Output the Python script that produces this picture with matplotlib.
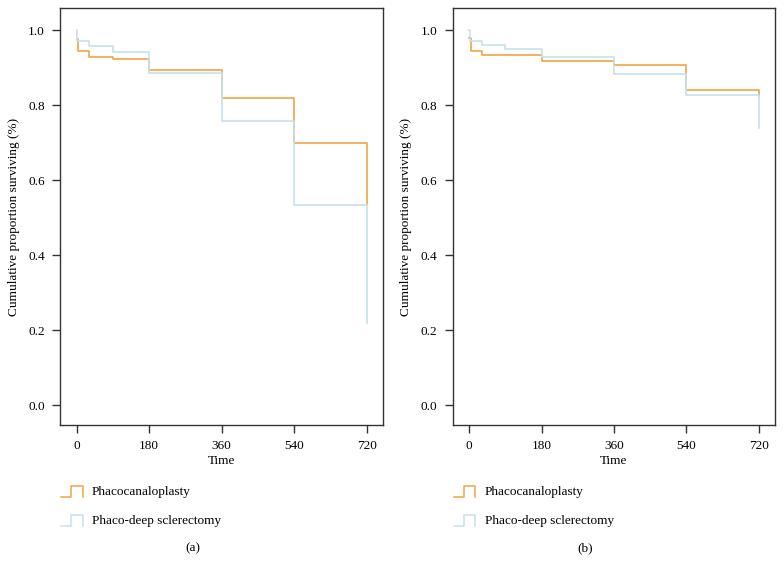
import matplotlib
matplotlib.use("Agg")
import matplotlib.pyplot as plt
from matplotlib.legend_handler import HandlerBase
from matplotlib.lines import Line2D

plt.rcParams['font.family'] = ['Liberation Serif', 'DejaVu Serif']
plt.rcParams['font.size'] = 9.5

ORANGE = '#F0A445'
BLUE = '#C4E1EC'

labels = ['Phacocanaloplasty', 'Phaco-deep sclerectomy']
xticks = [0, 180, 360, 540, 720]
yticks = [0.0, 0.2, 0.4, 0.6, 0.8, 1.0]

# panel (a)
a_orange_t = [0, 4, 30, 90, 180, 360, 540, 720]
a_orange_s = [0.975, 0.944, 0.929, 0.923, 0.894, 0.820, 0.698, 0.537]
a_blue_t = [0, 1, 30, 90, 180, 360, 540, 720]
a_blue_s = [1.0, 0.971, 0.957, 0.941, 0.886, 0.758, 0.533, 0.22]

# panel (b)
b_orange_t = [0, 5, 32, 180, 360, 540, 720]
b_orange_s = [0.98, 0.944, 0.933, 0.917, 0.907, 0.840, 0.824]
b_blue_t = [0, 1, 31, 89, 182, 360, 540, 720]
b_blue_s = [1.0, 0.971, 0.960, 0.949, 0.928, 0.882, 0.826, 0.74]


class StepHandler(HandlerBase):
    # legend icon shaped like a little step
    def create_artists(self, legend, orig_handle, xdescent, ydescent,
                       width, height, fontsize, trans):
        x0, x1 = -xdescent, -xdescent + width
        xm = x0 + width * 0.46
        y0, y1 = -ydescent - height * 0.2, -ydescent + height * 1.0
        line = Line2D([x0, xm, xm, x1, x1], [y0, y0, y1, y1, y0],
                      color=orig_handle.get_color(), lw=1.1)
        line.set_transform(trans)
        return [line]


fig = plt.figure(figsize=(7.84, 5.72), dpi=100)
axa = fig.add_axes([0.0765, 0.257, 0.412, 0.7285])
axb = fig.add_axes([0.5775, 0.257, 0.411, 0.7285])

panels = [
    (axa, a_orange_t, a_orange_s, a_blue_t, a_blue_s, '(a)', 0.2465),
    (axb, b_orange_t, b_orange_s, b_blue_t, b_blue_s, '(b)', 0.746),
]

for ax, ot, os_, bt, bs, tag, tx in panels:
    l1, = ax.step(ot, os_, where='post', color=ORANGE, lw=1.2)
    l2, = ax.step(bt, bs, where='post', color=BLUE, lw=1.2)
    ax.set_xlim(-41, 760)
    ax.set_ylim(-0.053, 1.058)
    ax.set_xticks(xticks)
    ax.set_xticklabels([str(v) for v in xticks])
    ax.set_yticks(yticks)
    ax.set_yticklabels(['%.1f' % v for v in yticks])
    ax.tick_params(direction='out', length=6, width=1, color='#333333', pad=5)
    for sp in ax.spines.values():
        sp.set_color('#333333')
        sp.set_linewidth(1)
    ax.set_xlabel('Time', labelpad=2)
    ax.set_ylabel('Cumulative proportion surviving (%)', labelpad=6)
    pos = ax.get_position()
    ax.legend([l1, l2], labels, handler_map={Line2D: StepHandler()},
              loc='upper left', bbox_to_anchor=(pos.x0 + 0.001, 0.150),
              bbox_transform=fig.transFigure, frameon=False,
              handlelength=1.65, handletextpad=0.7, labelspacing=1.25,
              borderaxespad=0, borderpad=0)
    fig.text(tx, 0.042, tag, ha='center', va='center')

fig.savefig('out.png', dpi=100)
